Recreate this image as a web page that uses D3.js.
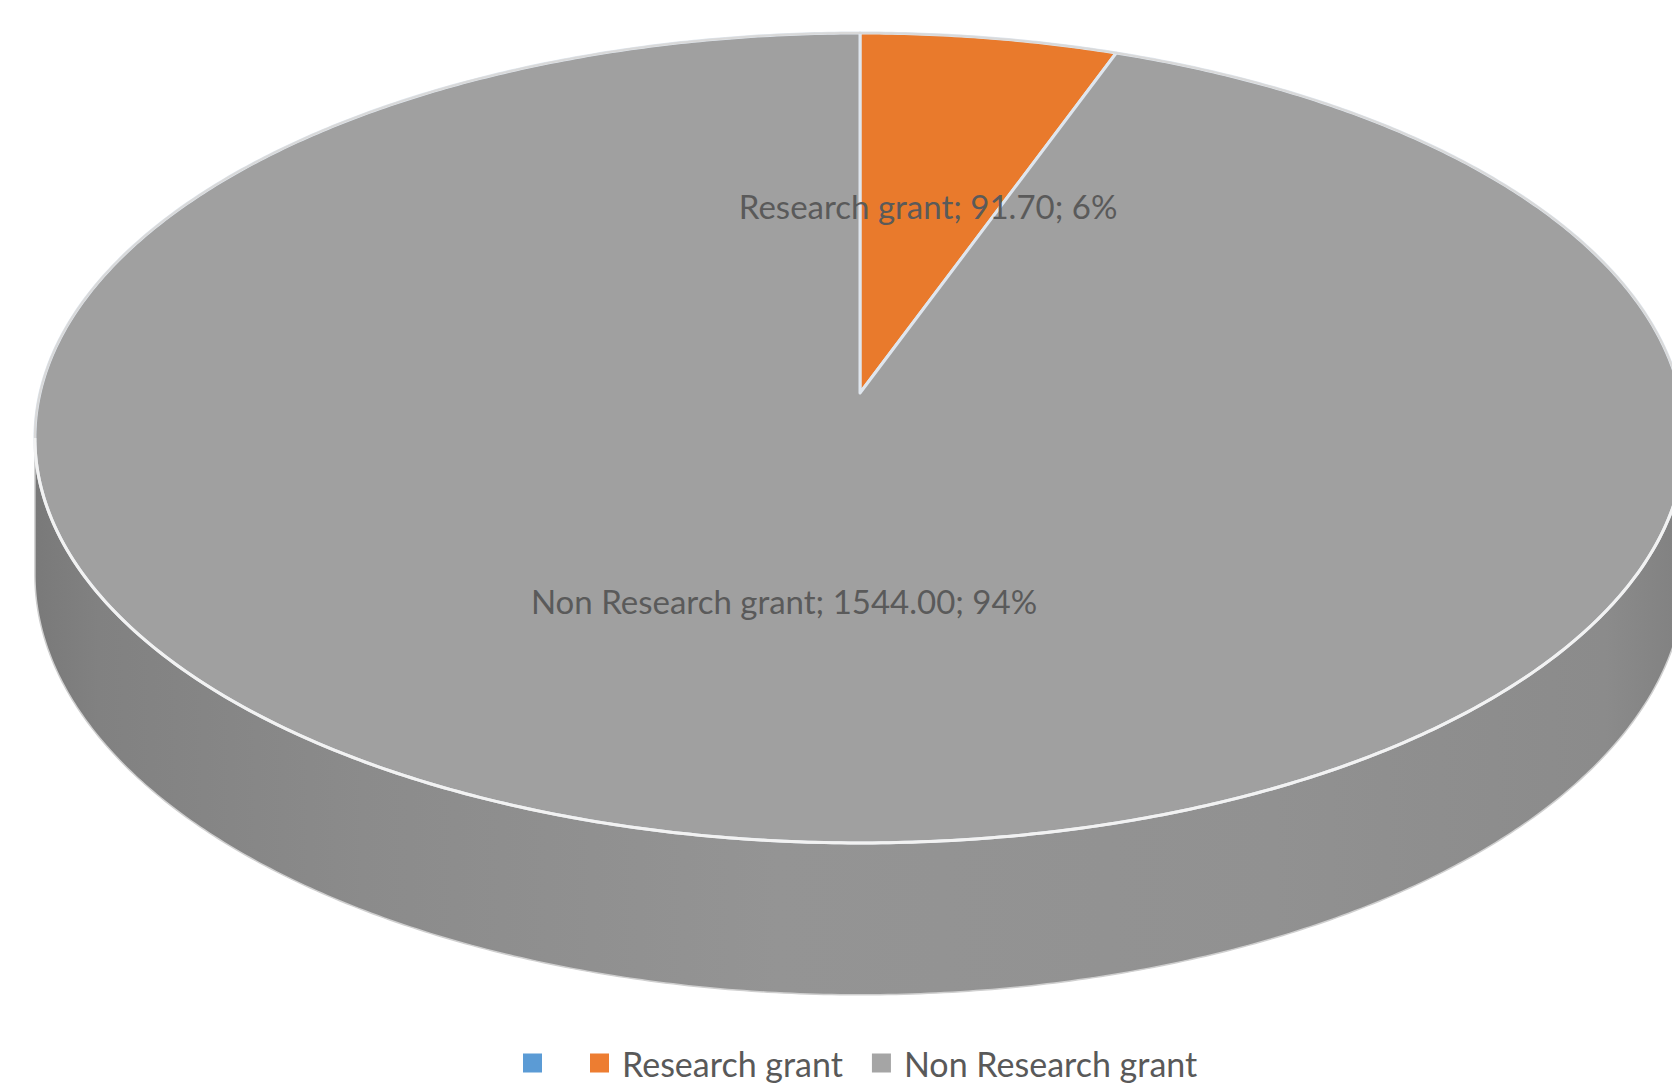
<!DOCTYPE html>
<html>
<head>
<meta charset="utf-8">
<script src="https://cdn.jsdelivr.net/npm/d3@7"></script>
<style>
  html, body { margin: 0; padding: 0; background: #ffffff; }
  svg { display: block; }
</style>
</head>
<body>
<svg id="chart" width="1672" height="1083"></svg>
<script>
// Grant funding split (3-D pie with a blank first series entry)
const categories = ["", "Research grant", "Non Research grant"];
const values = [0, 91.70, 1544.00];
const sliceColors = ["#5b9bd5", "#e97a2c", "#a0a0a0"];
const legendColors = ["#5b9bd5", "#ed7d31", "#a5a5a5"];

const W = 1672, H = 1083;
const svg = d3.select("#chart");

// perspective projection of the unit disc: screen = centre + (A*x, B*y) / (1 - P*y)
const CX = 860, CY = 393, A = 820, B = 400, P = 0.111, DEPTH = 135;
function proj(r, a, drop) {
  const x = r * Math.sin(a), y = -r * Math.cos(a);
  const w = 1 - P * y;
  return [CX + A * x / w, CY + B * y / w + (drop || 0) / w];
}
function rim(a0, a1, drop) {
  const n = Math.max(2, Math.ceil(Math.abs(a1 - a0) / (Math.PI / 360)));
  return d3.range(n + 1).map(i => proj(1, a0 + (a1 - a0) * i / n, drop));
}

const pie = d3.pie().sort(null).value(d => d).startAngle(0).endAngle(2 * Math.PI);
const arcs = pie(values);
const total = d3.sum(values);
const pct = d3.format(".0%");
const num = d3.format(".2f");
const line = d3.line();

// side shading
const defs = svg.append("defs");
const grad = defs.append("linearGradient").attr("id", "sideGrad")
  .attr("gradientUnits", "userSpaceOnUse")
  .attr("x1", CX - A * 1.01).attr("x2", CX + A * 1.01).attr("y1", 0).attr("y2", 0);
[[0, "#797979"], [0.04, "#818181"], [0.2, "#8b8b8b"], [0.45, "#949494"],
 [0.75, "#919191"], [0.95, "#8b8b8b"], [1, "#808080"]]
  .forEach(([o, c]) => grad.append("stop").attr("offset", o).attr("stop-color", c));

// visible wall between the two silhouette angles
const sA = Math.acos(-P), sB = 2 * Math.PI - Math.acos(-P);
const wallPts = rim(sA, sB, 0).concat(rim(sB, sA, DEPTH));
svg.append("path")
  .attr("d", line(wallPts) + "Z")
  .attr("fill", "url(#sideGrad)")
  .attr("stroke", "#cfcfcf")
  .attr("stroke-width", 1.5);

// top face slices
const faceLayer = svg.append("g");
faceLayer.selectAll("path.slice")
  .data(arcs)
  .join("path")
  .attr("class", "slice")
  .attr("d", d => line([[CX, CY]].concat(rim(d.startAngle, d.endAngle, 0))) + "Z")
  .attr("fill", (d, i) => sliceColors[i])
  .attr("stroke", "#dfe6ee")
  .attr("stroke-width", 3)
  .attr("stroke-linejoin", "round");

// rim highlights
svg.append("path")
  .attr("d", line(rim(sA, sB, 0)))
  .attr("fill", "none").attr("stroke", "#f2f2f2").attr("stroke-width", 3);
svg.append("path")
  .attr("d", line(rim(sB, sA + 2 * Math.PI, 0)))
  .attr("fill", "none").attr("stroke", "#d9d9d9").attr("stroke-width", 2);

// data labels: "name; value; percent"
svg.append("g").selectAll("text")
  .data(arcs.filter(d => d.value > 0))
  .join("text")
  .each(function (d) {
    const mid = (d.startAngle + d.endAngle) / 2;
    const [x, y] = proj(0.5, mid, 0);
    d3.select(this).attr("x", x).attr("y", y);
  })
  .attr("text-anchor", "middle")
  .attr("dominant-baseline", "central")
  .attr("font-family", "Lato, 'Open Sans', sans-serif")
  .attr("font-size", 33)
  .attr("fill", "#5a5a5a")
  .text(d => `${categories[d.index]}; ${num(d.value)}; ${pct(d.value / total)}`);

// legend
const legend = svg.append("g").attr("transform", "translate(523,1063)");
let lx = 0;
categories.forEach((c, i) => {
  const g = legend.append("g").attr("transform", `translate(${lx},0)`);
  g.append("rect").attr("x", 0).attr("y", -9.5).attr("width", 19).attr("height", 19)
    .attr("fill", legendColors[i]);
  const t = g.append("text").attr("x", 32).attr("y", 0)
    .attr("dominant-baseline", "central")
    .attr("font-family", "Lato, 'Open Sans', sans-serif")
    .attr("font-size", 34)
    .attr("fill", "#595959")
    .text(c);
  const tw = c ? t.node().getComputedTextLength() : 6;
  lx += 32 + tw + 29;
});
</script>
</body>
</html>
